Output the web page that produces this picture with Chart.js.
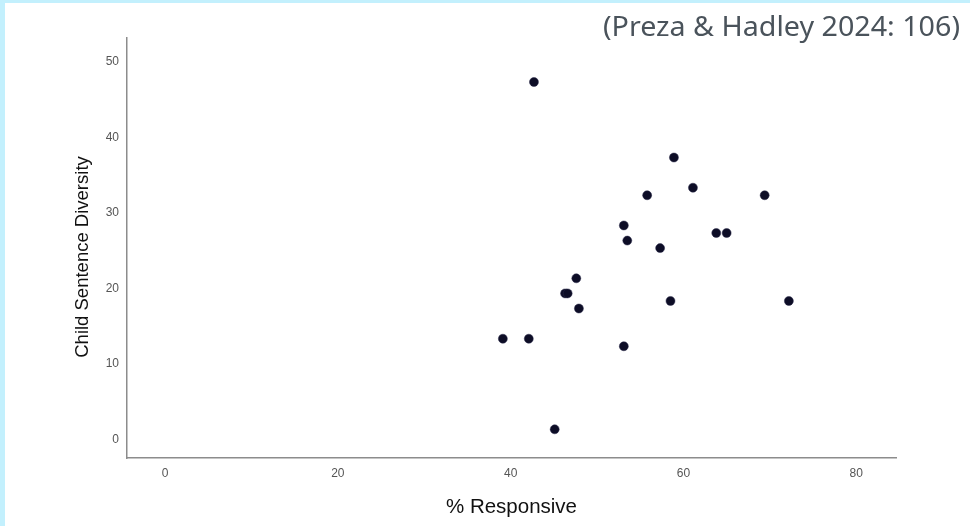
<!DOCTYPE html>
<html>
<head>
<meta charset="utf-8">
<script src="https://cdn.jsdelivr.net/npm/chart.js@4"></script>
<style>
  html, body { margin: 0; padding: 0; background: #fff; }
  body { width: 970px; height: 526px; overflow: hidden; position: relative; }
  .edge-top { position: absolute; left: 0; top: 0; width: 970px; height: 3px; background: #c3f0fd; }
  .edge-left { position: absolute; left: 0; top: 0; width: 5px; height: 526px; background: #c3f0fd; }
  #wrap { position: absolute; left: 0; top: 0; width: 970px; height: 526px; }
</style>
</head>
<body>
<div id="wrap"><canvas id="chart" width="970" height="526"></canvas></div>
<div class="edge-top"></div>
<div class="edge-left"></div>
<script>
// Scatter: % Responsive vs Child Sentence Diversity
const pctResponsive = [42.7, 58.9, 61.1, 55.8, 69.4, 53.1, 53.5, 57.3, 63.8, 65.0,
                       47.6, 46.3, 46.6, 47.9, 58.5, 72.2, 39.1, 42.1, 53.1, 45.1];
const sentenceDiversity = [47, 37, 33, 32, 32, 28, 26, 25, 27, 27,
                           21, 19, 19, 17, 18, 18, 13, 13, 12, 1];
const xTicks = [0, 20, 40, 60, 80];
const yTicks = [0, 10, 20, 30, 40, 50];
const xTitle = "% Responsive";
const yTitle = "Child Sentence Diversity";
const sourceNote = "(Preza & Hadley 2024: 106)";

const points = pctResponsive.map((x, i) => ({ x, y: sentenceDiversity[i] }));

const labelsPlugin = {
  id: "labels",
  afterDraw(chart) {
    const { ctx, chartArea } = chart;
    ctx.save();
    ctx.fillStyle = "#111";
    ctx.textAlign = "center";
    ctx.textBaseline = "middle";
    // x title
    ctx.font = "20.5px 'Liberation Sans', Arial, sans-serif";
    ctx.fillText(xTitle, (chartArea.left + chartArea.right) / 2, 507);
    // y title
    ctx.font = "18.5px 'Liberation Sans', Arial, sans-serif";
    ctx.translate(83, 257);
    ctx.rotate(-Math.PI / 2);
    ctx.fillText(yTitle, 0, 0);
    ctx.restore();

    // source note, top right
    ctx.save();
    ctx.font = "27px 'Noto Sans', sans-serif";
    ctx.fillStyle = "#4a535b";
    ctx.textBaseline = "alphabetic";
    ctx.textAlign = "left";
    const w = ctx.measureText(sourceNote).width;
    const target = 357;
    ctx.translate(603, 36);
    ctx.scale(target / w, 1);
    ctx.fillText(sourceNote, 0, 0);
    ctx.restore();
  }
};

new Chart(document.getElementById("chart").getContext("2d"), {
  type: "scatter",
  data: {
    datasets: [{
      data: points,
      backgroundColor: "#0d0d26",
      borderColor: "#2a2a4a",
      borderWidth: 0.5,
      pointRadius: 4.5,
      pointHoverRadius: 4.5,
    }],
  },
  options: {
    responsive: false,
    animation: false,
    layout: { padding: { left: 0, right: 74, top: 38, bottom: 0 } },
    scales: {
      x: {
        type: "linear", min: -4.4, max: 84.6,
        afterFit(scale) { scale.height = 68; },
        afterBuildTicks(scale) { scale.ticks = xTicks.map(v => ({ value: v })); },
        grid: { display: false, drawTicks: false },
        border: { display: true, color: "#8c8c8c", width: 1.5 },
        ticks: { color: "#555", padding: 8, font: { size: 12, family: "'Liberation Sans', Arial, sans-serif" } },
      },
      y: {
        type: "linear", min: -2.8, max: 52.83,
        afterFit(scale) { scale.width = 127; },
        afterBuildTicks(scale) { scale.ticks = yTicks.map(v => ({ value: v })); },
        grid: { display: false, drawTicks: false },
        border: { display: true, color: "#8c8c8c", width: 1.5 },
        ticks: { color: "#555", padding: 8, labelOffset: 2.5, font: { size: 12, family: "'Liberation Sans', Arial, sans-serif" } },
      },
    },
    plugins: {
      legend: { display: false },
      tooltip: { enabled: false },
    },
  },
  plugins: [labelsPlugin],
});
</script>
</body>
</html>
